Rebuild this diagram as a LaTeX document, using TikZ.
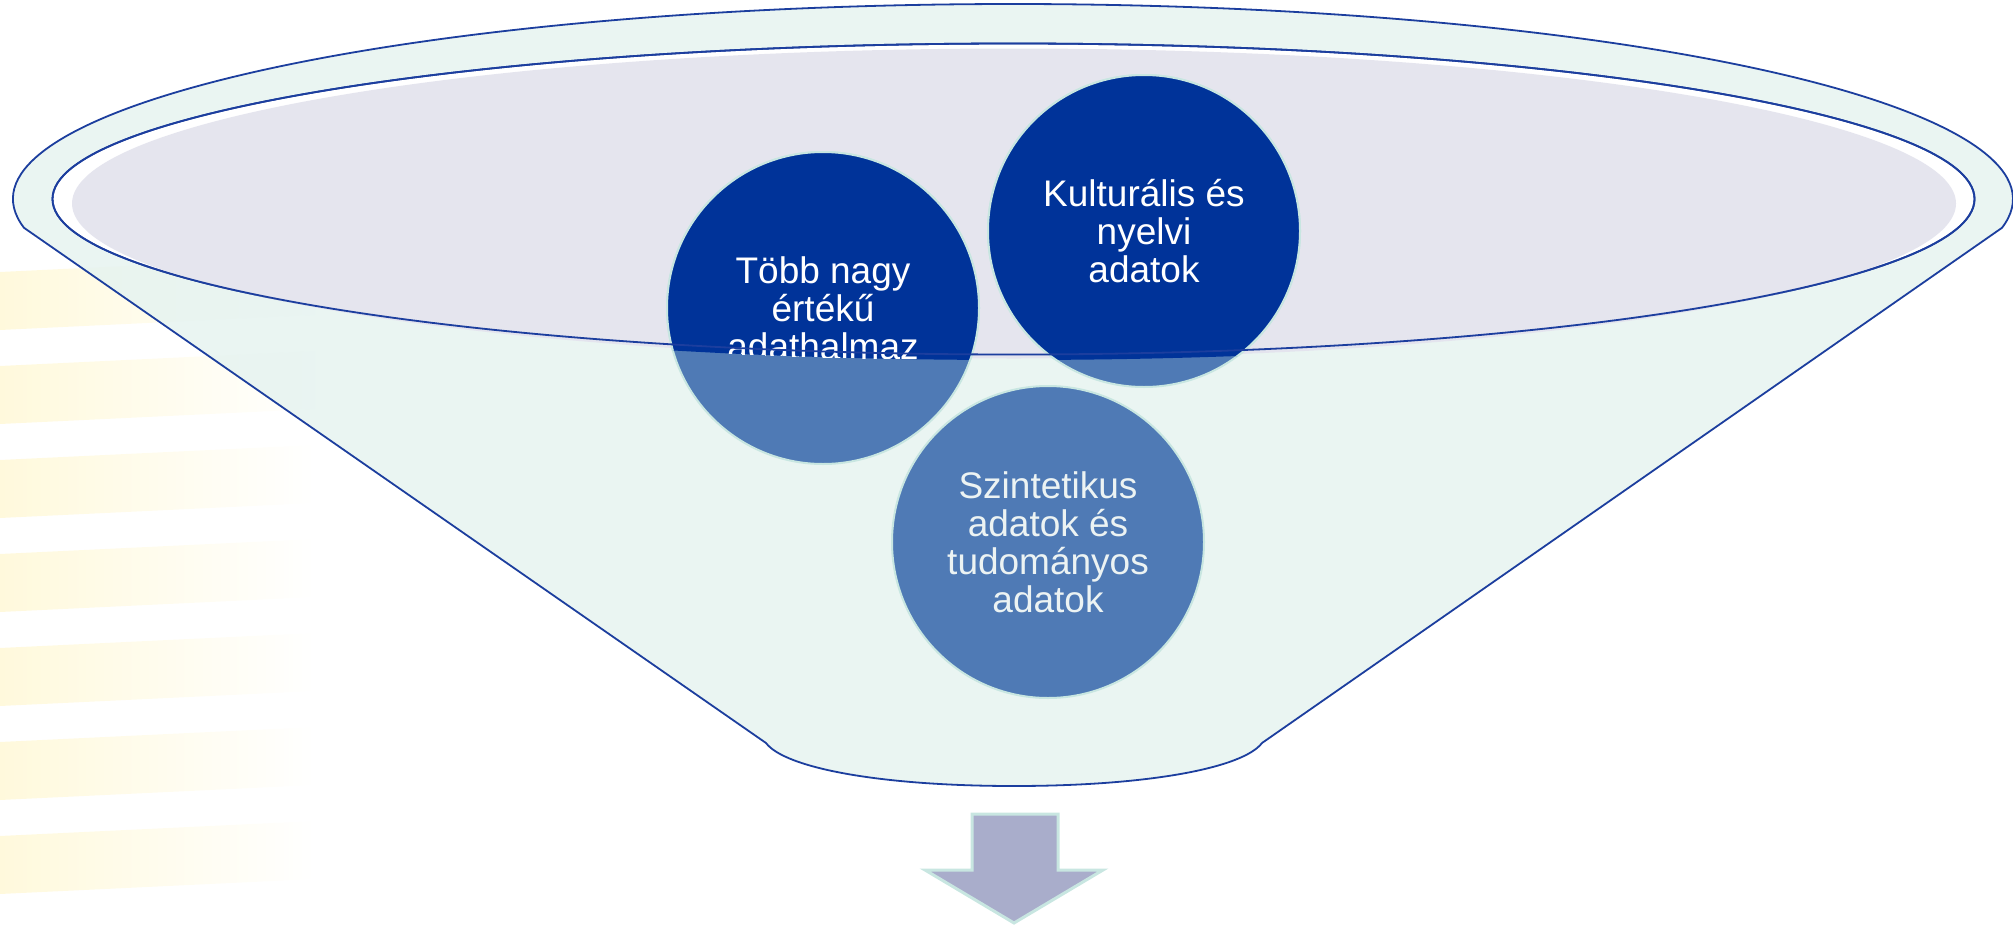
\documentclass[tikz,border=0pt]{standalone}
\usepackage{fontspec}
\setmainfont{Liberation Sans}
\definecolor{stripeY}{RGB}{255,249,220}
\definecolor{tealF}{RGB}{230,243,240}
\definecolor{lineB}{RGB}{28,62,158}
\definecolor{greyF}{RGB}{228,228,238}
\definecolor{darkC}{RGB}{0,51,153}
\definecolor{lightC}{RGB}{79,122,181}
\definecolor{borderC}{RGB}{200,230,225}
\definecolor{arrowF}{RGB}{169,173,203}
\definecolor{textL}{RGB}{236,243,243}
\begin{document}
\begin{tikzpicture}[x=1pt,y=-1pt,
  outline/.style={draw=lineB,line width=1.8pt},
  bubble/.style={circle,minimum size=312pt,inner sep=0pt,draw=borderC,line width=2pt,
    text=white,align=center,font=\fontsize{37}{38}\selectfont},
  arrowS/.style={fill=arrowF,draw=borderC,line width=3pt,line join=miter}]
\useasboundingbox (0,0) rectangle (2013,926);
% stripes
\foreach \i in {0,...,6} {
  \pgfmathsetmacro\t{272+94*\i}
  \shade[left color=stripeY,middle color=stripeY!85!white,right color=white]
    (0,\t) -- (315,\t-15) -- (315,\t+43) -- (0,\t+58) -- cycle;
}
% funnel body
\path[outline,fill=tealF,fill opacity=0.85]
  ([shift={(1013,199)}]171.5:1000 and 195)
  arc[start angle=171.5,end angle=368.5,x radius=1000,y radius=195]
  -- (1262,743) .. controls (1243,768) and (1148,786) .. (1014,786)
  .. controls (880,786) and (785,768) .. (766,743) -- cycle;
% ring
\draw[outline,fill=white] (1013.5,199) ellipse[x radius=961,y radius=155.5];
\fill[greyF,opacity=0.95] (1014,203.5) ellipse[x radius=942,y radius=155];
% lower (seen through funnel) parts of the top circles
\draw[draw=borderC,line width=2pt,fill=lightC] (823,308) circle[radius=156];
\draw[draw=borderC,line width=2pt,fill=lightC] (1144,231) circle[radius=156];
\begin{scope}
  \clip (1014,210) ellipse[x radius=970,y radius=150];
  \node[bubble,fill=darkC] (c1) at (823,308) {Több nagy\\értékű\\adathalmaz};
  \node[bubble,fill=darkC] (c2) at (1144,231) {Kulturális és\\nyelvi\\adatok};
\end{scope}
\draw[outline] (1013.5,199) ellipse[x radius=961,y radius=155.5];
\node[bubble,fill=lightC,text=textL] (c3) at (1048,542) {Szintetikus\\adatok és\\tudományos\\adatok};
% arrow
\draw[arrowS] (972,814) -- (1058,814) -- (1058,870) -- (1103,870) -- (1014,923)
  -- (925,870) -- (972,870) -- cycle;
\end{tikzpicture}
\end{document}
